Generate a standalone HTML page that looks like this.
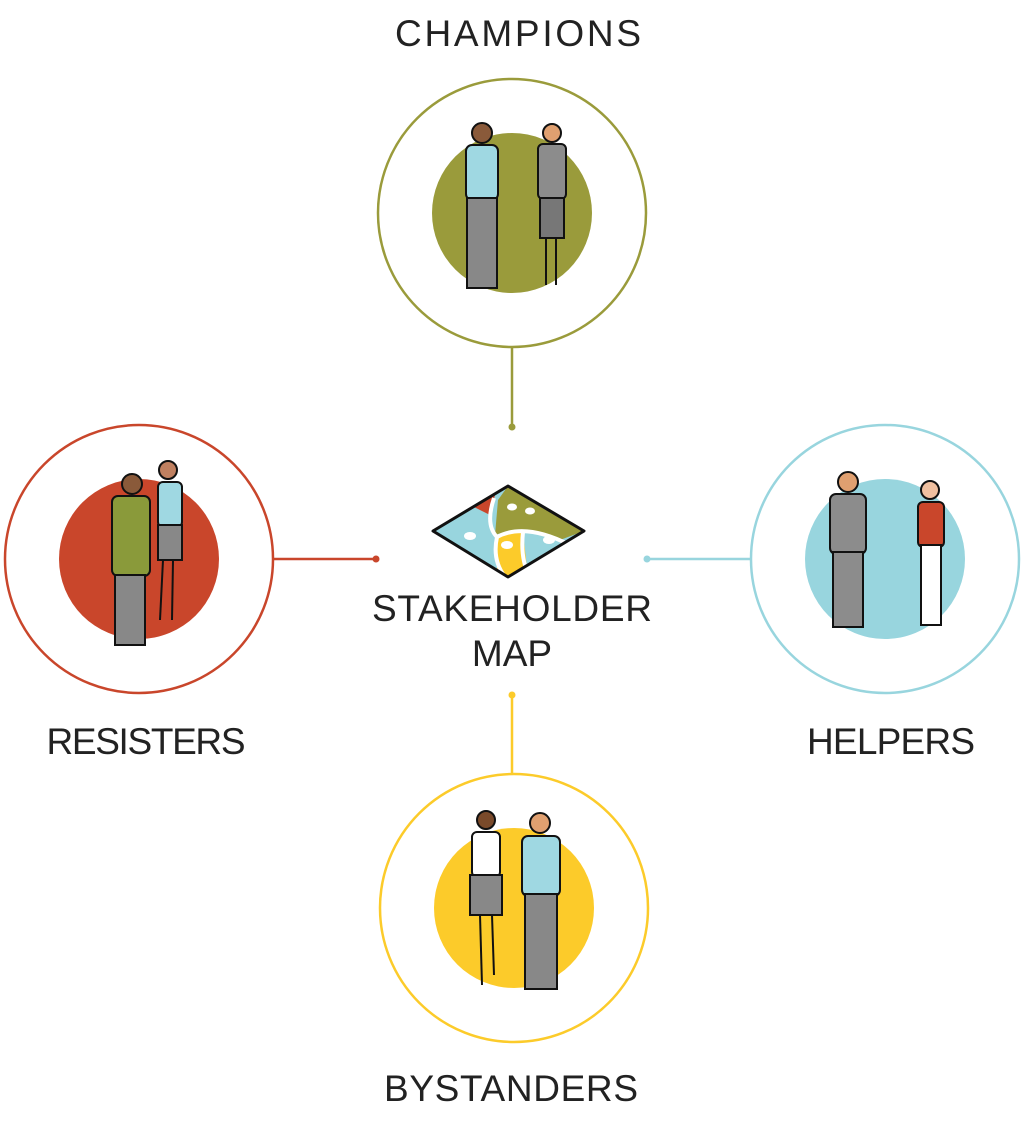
<!DOCTYPE html>
<html><head><style>
html,body{margin:0;padding:0;background:#fff;}
body{width:1024px;height:1121px;overflow:hidden;}
text{font-family:"Liberation Sans",sans-serif;fill:#222;font-size:37px;}
</style></head><body>
<svg width="1024" height="1121" viewBox="0 0 1024 1121" xmlns="http://www.w3.org/2000/svg">
<defs><clipPath id="d"><polygon points="508,486 584,531 508,577 433,531"/></clipPath></defs>
<line x1="512" y1="348" x2="512" y2="427" stroke="#9a9b3b" stroke-width="2.5"/><circle cx="512" cy="427" r="3.5" fill="#9a9b3b"/>
<line x1="273" y1="559" x2="376" y2="559" stroke="#c9462b" stroke-width="2.5"/><circle cx="376" cy="559" r="3.5" fill="#c9462b"/>
<line x1="647" y1="559" x2="750" y2="559" stroke="#98d5de" stroke-width="2.5"/><circle cx="647" cy="559" r="3.5" fill="#98d5de"/>
<line x1="512" y1="695" x2="512" y2="773" stroke="#fccb2a" stroke-width="2.5"/><circle cx="512" cy="695" r="3.5" fill="#fccb2a"/>
<circle cx="512" cy="213" r="134" fill="#fff" stroke="#9a9b3b" stroke-width="2.5"/><circle cx="512" cy="213" r="80" fill="#9a9b3b"/>
<circle cx="139" cy="559" r="134" fill="#fff" stroke="#c9462b" stroke-width="2.5"/><circle cx="139" cy="559" r="80" fill="#c9462b"/>
<circle cx="885" cy="559" r="134" fill="#fff" stroke="#98d5de" stroke-width="2.5"/><circle cx="885" cy="559" r="80" fill="#98d5de"/>
<circle cx="514" cy="908" r="134" fill="#fff" stroke="#fccb2a" stroke-width="2.5"/><circle cx="514" cy="908" r="80" fill="#fccb2a"/>
<g stroke="#111" stroke-width="2">
 <circle cx="482" cy="133" r="10" fill="#8a5a3a"/><rect x="466" y="145" width="32" height="55" rx="6" fill="#9fd8e2"/><rect x="467" y="198" width="30" height="90" fill="#888"/>
 <circle cx="552" cy="133" r="9" fill="#e0a070"/><rect x="538" y="144" width="28" height="55" rx="5" fill="#8c8c8c"/><rect x="540" y="198" width="24" height="40" fill="#777"/><line x1="546" y1="238" x2="546" y2="285"/><line x1="556" y1="238" x2="556" y2="285"/>
 <circle cx="132" cy="484" r="10" fill="#8a5a3a"/><rect x="112" y="496" width="38" height="80" rx="6" fill="#8a9a3a"/><rect x="115" y="575" width="30" height="70" fill="#888"/>
 <circle cx="168" cy="470" r="9" fill="#c08060"/><rect x="158" y="482" width="24" height="45" rx="5" fill="#9fd8e2"/><rect x="158" y="525" width="24" height="35" fill="#888"/><line x1="163" y1="560" x2="160" y2="620"/><line x1="173" y1="560" x2="172" y2="620"/>
 <circle cx="848" cy="482" r="10" fill="#e0a070"/><rect x="830" y="494" width="36" height="60" rx="6" fill="#8c8c8c"/><rect x="833" y="552" width="30" height="75" fill="#8c8c8c"/>
 <circle cx="930" cy="490" r="9" fill="#f0c0a0"/><rect x="918" y="502" width="26" height="45" rx="5" fill="#c9462b"/><rect x="921" y="545" width="20" height="80" fill="#fff"/>
 <circle cx="486" cy="820" r="9" fill="#7a4a2a"/><rect x="472" y="832" width="28" height="45" rx="5" fill="#fff"/><rect x="470" y="875" width="32" height="40" fill="#888"/><line x1="480" y1="915" x2="482" y2="985"/><line x1="492" y1="915" x2="494" y2="975"/>
 <circle cx="540" cy="823" r="10" fill="#e0a070"/><rect x="522" y="836" width="38" height="60" rx="6" fill="#9fd8e2"/><rect x="525" y="894" width="32" height="95" fill="#888"/>
</g>
<g clip-path="url(#d)">
 <rect x="430" y="484" width="160" height="96" fill="#98d5de"/>
 <path d="M508,486 L584,531 L560,540 Q520,525 495,535 L498,500 Z" fill="#9a9b3b"/>
 <path d="M470,505 L495,495 L490,515 Z" fill="#c9462b"/>
 <path d="M497,535 L523,532 L528,577 L497,577 Z" fill="#fccb2a"/>
 <path d="M494,498 Q485,525 497,537 Q525,522 570,545" stroke="#fff" stroke-width="4" fill="none"/>
 <path d="M497,537 Q492,560 505,577 M523,532 Q520,560 530,577" stroke="#fff" stroke-width="4" fill="none"/>
 <ellipse cx="512" cy="507" rx="5" ry="3.5" fill="#fff"/><ellipse cx="530" cy="511" rx="5" ry="3.5" fill="#fff"/>
 <ellipse cx="470" cy="536" rx="6" ry="4" fill="#fff"/><ellipse cx="507" cy="545" rx="6" ry="4" fill="#fff"/><ellipse cx="549" cy="540" rx="6" ry="4" fill="#fff"/>
</g>
<polygon points="508,486 584,531 508,577 433,531" fill="none" stroke="#111" stroke-width="3" stroke-linejoin="round"/>
<text x="518" y="46" text-anchor="middle" textLength="246">CHAMPIONS</text>
<text x="512" y="621" text-anchor="middle" textLength="280">STAKEHOLDER</text>
<text x="512" y="666" text-anchor="middle">MAP</text>
<text x="146" y="754" text-anchor="middle" textLength="199">RESISTERS</text>
<text x="891" y="754" text-anchor="middle" textLength="168">HELPERS</text>
<text x="511" y="1101" text-anchor="middle" textLength="254">BYSTANDERS</text>
</svg>
</body></html>
